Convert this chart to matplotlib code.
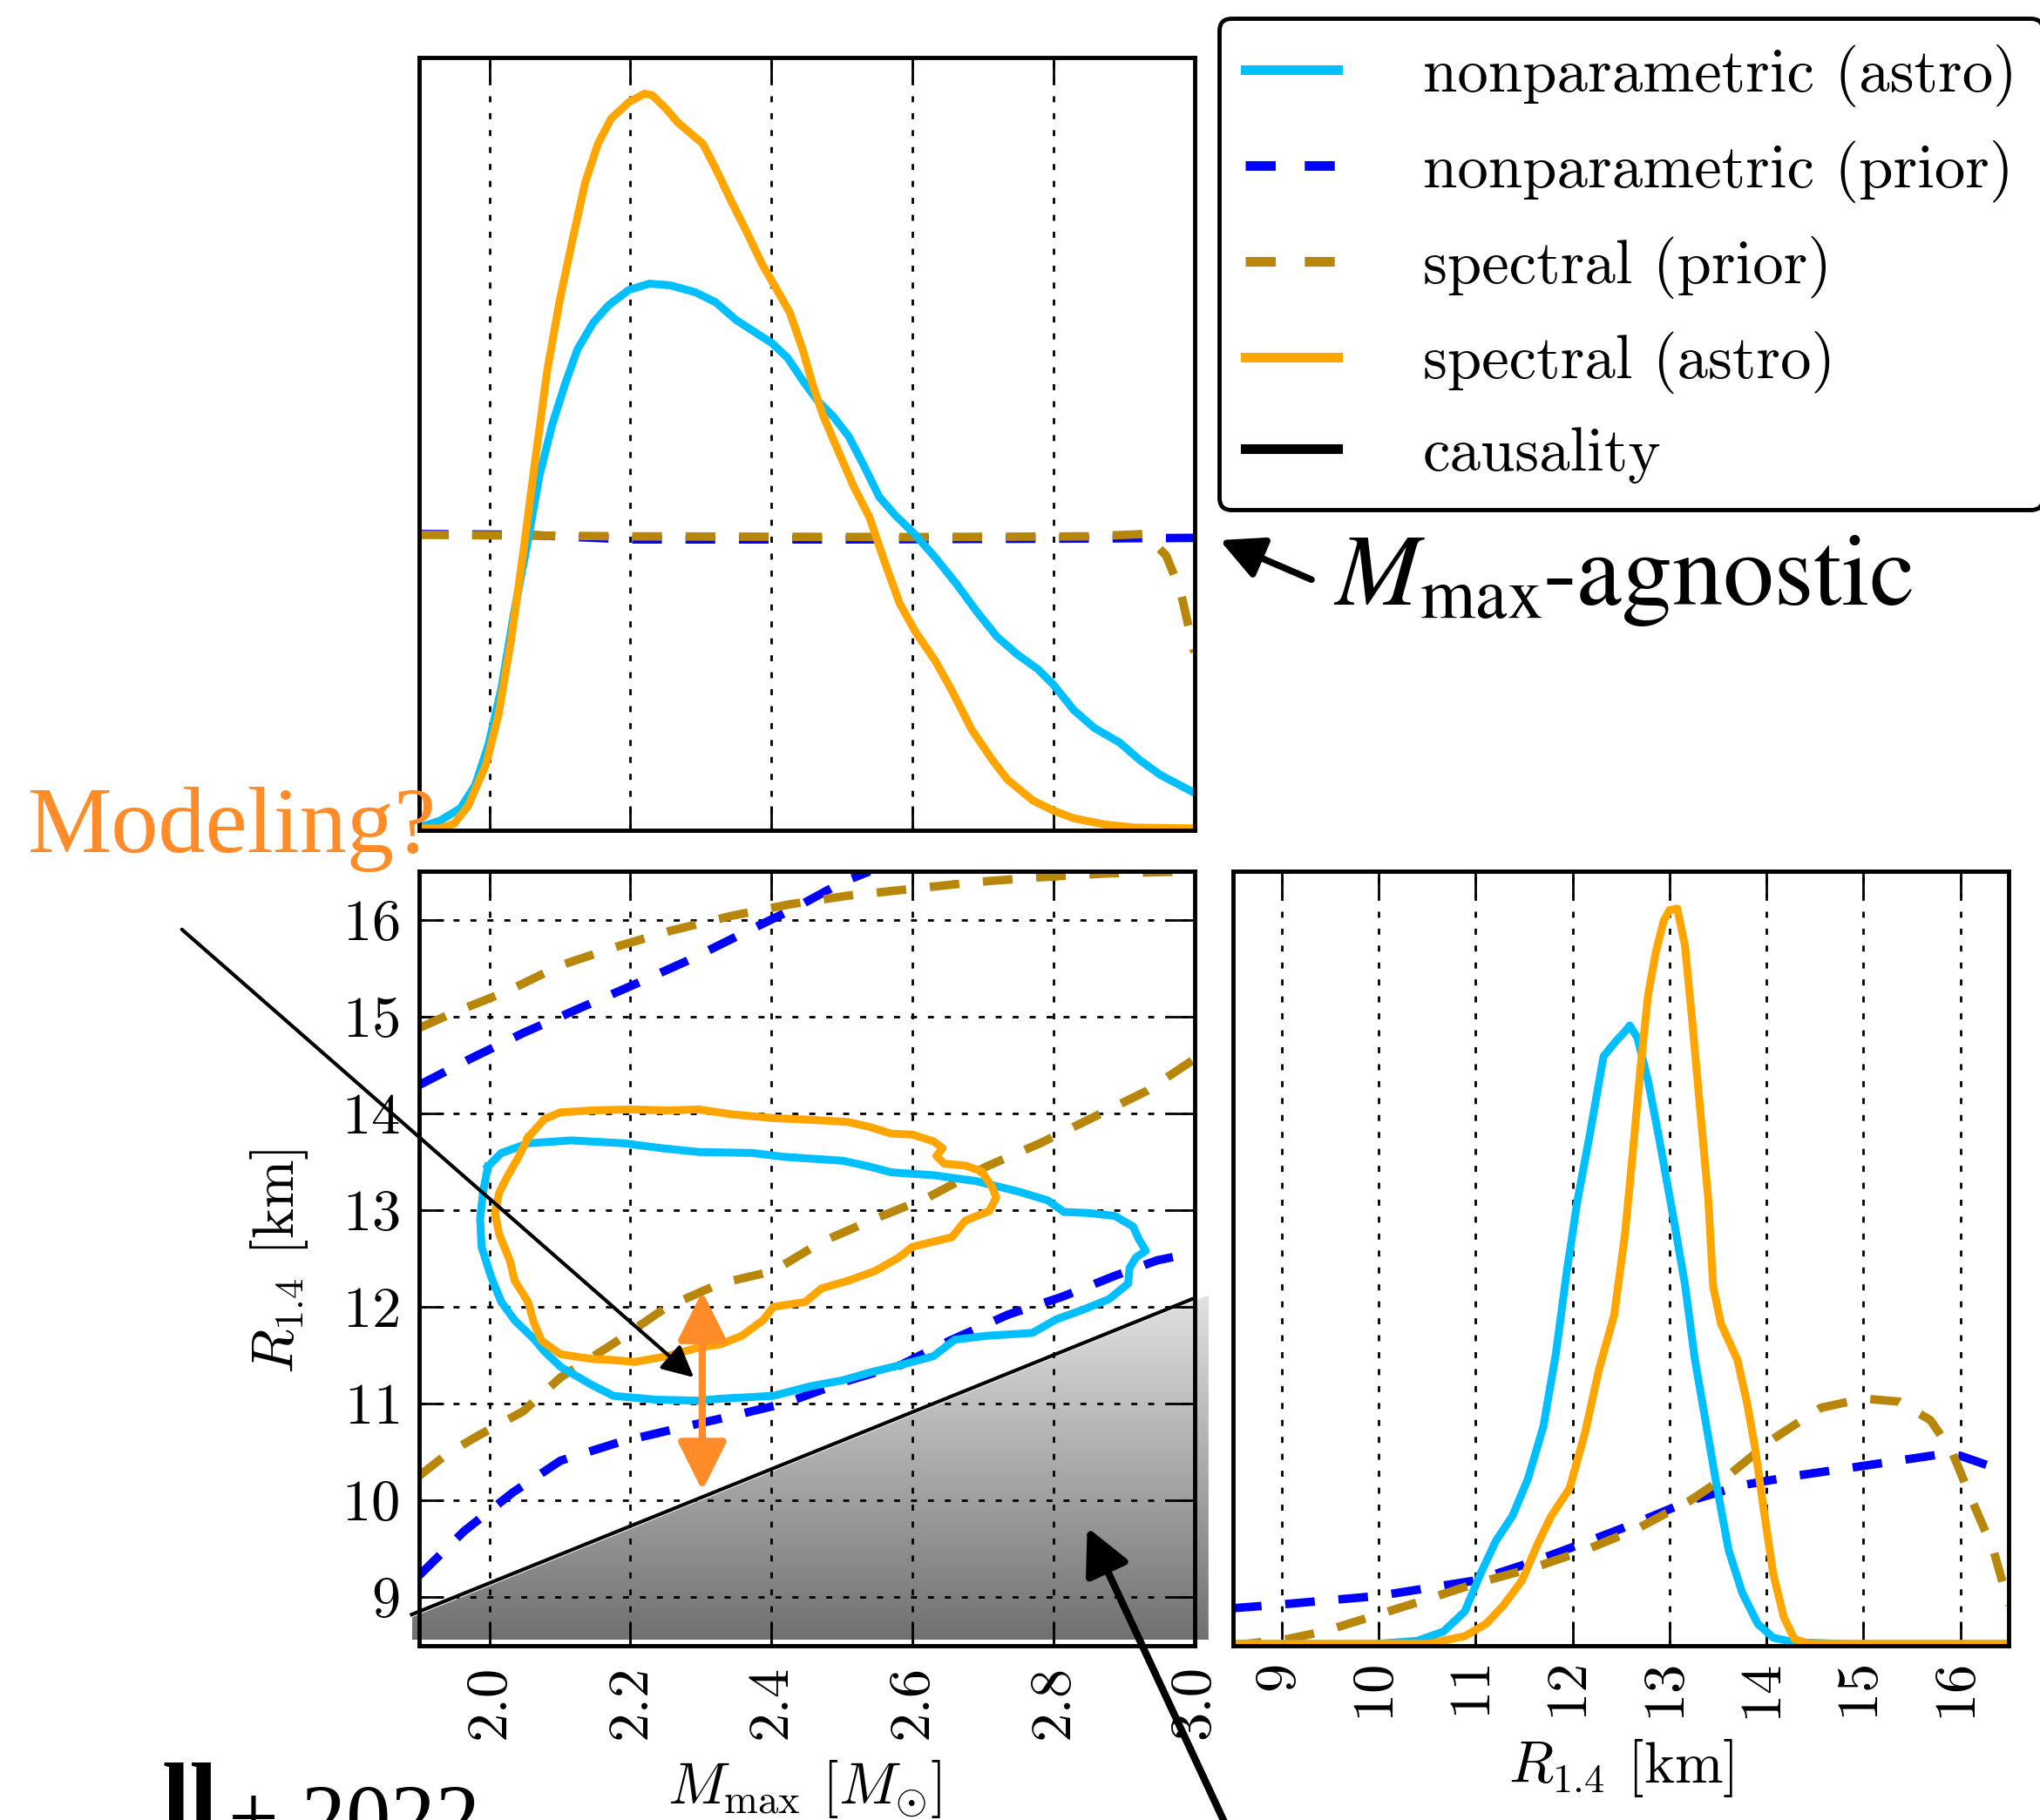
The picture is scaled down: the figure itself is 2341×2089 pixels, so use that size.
import numpy as np
import matplotlib
matplotlib.use('Agg')
import matplotlib.pyplot as plt
from matplotlib.lines import Line2D
from matplotlib.patches import Polygon
from matplotlib.colors import LinearSegmentedColormap

# ---------------------------------------------------------------------------
# data
# ---------------------------------------------------------------------------

# top panel: marginal of M_max (arbitrary normalisation)
np_astro_mmax = [1.90, 1.93, 1.959, 1.98, 1.999, 2.017, 2.035, 2.053, 2.071, 2.089, 2.107, 2.125,
                 2.147, 2.169, 2.198, 2.227, 2.256, 2.292, 2.321, 2.35, 2.372, 2.401, 2.423, 2.445,
                 2.466, 2.488, 2.51, 2.532, 2.553, 2.575, 2.604, 2.633, 2.662, 2.691, 2.72, 2.749,
                 2.778, 2.80, 2.829, 2.858, 2.894, 2.923, 2.952, 3.0]
np_astro_mmax_pdf = [0.003, 0.012, 0.028, 0.058, 0.111, 0.183, 0.281, 0.366, 0.458, 0.524, 0.576,
                     0.622, 0.656, 0.679, 0.699, 0.707, 0.705, 0.696, 0.683, 0.660, 0.647, 0.630,
                     0.611, 0.581, 0.555, 0.535, 0.509, 0.470, 0.431, 0.408, 0.382, 0.352, 0.319,
                     0.283, 0.250, 0.227, 0.208, 0.188, 0.155, 0.132, 0.113, 0.090, 0.071, 0.048]

spec_astro_mmax = [1.90, 1.93, 1.95, 1.97, 1.995, 2.013, 2.031, 2.049, 2.064, 2.082, 2.10, 2.118,
                   2.136, 2.154, 2.173, 2.198, 2.22, 2.231, 2.25, 2.267, 2.281, 2.303, 2.321, 2.343,
                   2.365, 2.387, 2.408, 2.426, 2.445, 2.459, 2.474, 2.495, 2.517, 2.539, 2.561,
                   2.582, 2.604, 2.633, 2.655, 2.684, 2.713, 2.735, 2.771, 2.80, 2.829, 2.873,
                   2.916, 3.0]
spec_astro_mmax_pdf = [0.002, 0.002, 0.008, 0.031, 0.084, 0.149, 0.247, 0.365, 0.471, 0.594, 0.686,
                       0.764, 0.838, 0.888, 0.921, 0.942, 0.953, 0.951, 0.934, 0.916, 0.905, 0.888,
                       0.856, 0.814, 0.774, 0.732, 0.699, 0.670, 0.620, 0.575, 0.535, 0.490, 0.444,
                       0.405, 0.346, 0.293, 0.257, 0.218, 0.182, 0.130, 0.091, 0.065, 0.038, 0.025,
                       0.015, 0.007, 0.003, 0.002]

np_prior_mmax = [1.90, 2.05, 2.15, 2.20, 2.50, 2.80, 3.00]
np_prior_mmax_pdf = [0.383, 0.382, 0.378, 0.376, 0.376, 0.377, 0.378]

spec_prior_mmax = [1.90, 2.20, 2.60, 2.85, 2.93, 2.96, 2.98, 3.00]
spec_prior_mmax_pdf = [0.382, 0.380, 0.379, 0.380, 0.383, 0.355, 0.31, 0.23]

# joint panel: 90% credible contours in (M_max, R_1.4)
np_astro_contour_m = [1.998, 2.017, 2.055, 2.116, 2.191, 2.244, 2.297, 2.373, 2.418, 2.501, 2.539,
                      2.570, 2.630, 2.690, 2.751, 2.792, 2.815, 2.849, 2.887, 2.913, 2.921, 2.931,
                      2.917, 2.908, 2.906, 2.879, 2.842, 2.804, 2.770, 2.705, 2.660, 2.630, 2.584,
                      2.539, 2.501, 2.456, 2.403, 2.327, 2.297, 2.237, 2.176, 2.146, 2.101, 2.078,
                      2.063, 2.036, 2.017, 2.002, 1.989, 1.987, 1.991, 1.998]
np_astro_contour_r = [13.45, 13.59, 13.69, 13.72, 13.69, 13.64, 13.60, 13.59, 13.55, 13.51, 13.45,
                      13.39, 13.36, 13.30, 13.19, 13.10, 12.98, 12.97, 12.94, 12.83, 12.70, 12.58,
                      12.51, 12.40, 12.24, 12.08, 11.97, 11.87, 11.73, 11.70, 11.66, 11.49, 11.40,
                      11.32, 11.24, 11.18, 11.08, 11.05, 11.03, 11.04, 11.08, 11.19, 11.38, 11.54,
                      11.67, 11.86, 12.05, 12.32, 12.62, 12.91, 13.18, 13.45]

spec_astro_contour_m = [2.055, 2.078, 2.101, 2.146, 2.199, 2.252, 2.297, 2.343, 2.403, 2.464, 2.509,
                        2.539, 2.570, 2.600, 2.630, 2.643, 2.634, 2.645, 2.675, 2.698, 2.713, 2.719,
                        2.709, 2.675, 2.656, 2.600, 2.581, 2.547, 2.509, 2.471, 2.448, 2.403, 2.388,
                        2.358, 2.327, 2.297, 2.252, 2.206, 2.176, 2.146, 2.101, 2.074, 2.063, 2.055,
                        2.036, 2.029, 2.014, 2.008, 2.014, 2.025, 2.040, 2.055]
spec_astro_contour_r = [13.75, 13.94, 14.01, 14.03, 14.04, 14.03, 14.04, 13.99, 13.95, 13.93, 13.91,
                        13.86, 13.79, 13.78, 13.71, 13.64, 13.56, 13.48, 13.46, 13.40, 13.24, 13.13,
                        12.99, 12.89, 12.72, 12.62, 12.51, 12.37, 12.27, 12.19, 12.05, 12.00, 11.86,
                        11.70, 11.61, 11.58, 11.49, 11.43, 11.45, 11.46, 11.51, 11.65, 11.84, 12.05,
                        12.27, 12.48, 12.75, 12.97, 13.18, 13.34, 13.53, 13.75]

# prior contours (only partly inside the window)
np_prior_upper_m = [1.900, 1.972, 2.048, 2.123, 2.199, 2.282, 2.357, 2.433, 2.501, 2.539]
np_prior_upper_r = [14.29, 14.56, 14.83, 15.07, 15.31, 15.58, 15.85, 16.12, 16.39, 16.50]
np_prior_lower_m = [1.900, 1.964, 2.033, 2.101, 2.184, 2.259, 2.343, 2.418, 2.501, 2.584, 2.653,
                    2.736, 2.811, 2.887, 2.947, 3.000]
np_prior_lower_r = [9.22, 9.68, 10.08, 10.41, 10.60, 10.73, 10.87, 11.00, 11.22, 11.40, 11.65,
                    11.92, 12.10, 12.32, 12.48, 12.56]

spec_prior_upper_m = [1.900, 1.949, 2.025, 2.101, 2.184, 2.259, 2.343, 2.426, 2.509, 2.600, 2.690,
                      2.781, 2.879, 2.993]
spec_prior_upper_r = [14.88, 15.04, 15.26, 15.53, 15.73, 15.89, 16.04, 16.16, 16.25, 16.32, 16.39,
                      16.44, 16.48, 16.50]
spec_prior_lower_m = [1.900, 1.942, 1.987, 2.048, 2.101, 2.176, 2.252, 2.327, 2.403, 2.471, 2.547,
                      2.622, 2.705, 2.781, 2.857, 2.932, 3.000]
spec_prior_lower_r = [10.25, 10.49, 10.68, 10.92, 11.27, 11.62, 12.00, 12.24, 12.37, 12.67, 12.91,
                      13.13, 13.45, 13.69, 13.96, 14.23, 14.56]

# causality bound
causality_m = [1.89, 3.0]
causality_r = [8.82, 12.09]

# right panel: marginal of R_1.4 (arbitrary normalisation)
np_astro_r = [8.5, 9.97, 10.40, 10.67, 10.89, 11.05, 11.21, 11.38, 11.54, 11.70, 11.83, 11.94,
              12.05, 12.18, 12.32, 12.45, 12.54, 12.59, 12.67, 12.78, 12.89, 13.05, 13.16, 13.26,
              13.37, 13.48, 13.61, 13.75, 13.91, 14.07, 14.29, 14.83, 16.5]
np_astro_r_pdf = [0.002, 0.002, 0.006, 0.018, 0.044, 0.092, 0.135, 0.167, 0.215, 0.283, 0.378,
                  0.482, 0.574, 0.661, 0.761, 0.781, 0.793, 0.801, 0.785, 0.729, 0.657, 0.546,
                  0.466, 0.371, 0.291, 0.211, 0.123, 0.068, 0.028, 0.010, 0.004, 0.002, 0.002]

spec_astro_r = [8.5, 10.51, 10.89, 11.11, 11.29, 11.48, 11.64, 11.78, 11.97, 12.13, 12.27, 12.43,
                12.54, 12.62, 12.70, 12.78, 12.86, 12.94, 13.00, 13.08, 13.16, 13.24, 13.32, 13.40,
                13.45, 13.53, 13.70, 13.80, 13.88, 13.97, 14.07, 14.18, 14.29, 14.45, 16.5]
spec_astro_r_pdf = [0.002, 0.002, 0.012, 0.028, 0.052, 0.084, 0.131, 0.167, 0.203, 0.275, 0.355,
                    0.427, 0.530, 0.634, 0.745, 0.841, 0.896, 0.936, 0.950, 0.952, 0.904, 0.799,
                    0.687, 0.576, 0.464, 0.416, 0.369, 0.313, 0.257, 0.177, 0.092, 0.036, 0.008,
                    0.002, 0.002]

np_prior_r = [8.49, 9.0, 10.0, 11.0, 11.59, 12.13, 12.67, 13.21, 13.75, 14.29, 15.0, 15.37, 15.80,
              16.0, 16.23, 16.5]
np_prior_r_pdf = [0.048, 0.053, 0.064, 0.084, 0.108, 0.133, 0.159, 0.187, 0.207, 0.219, 0.232,
                  0.239, 0.247, 0.245, 0.235, 0.223]

spec_prior_r = [8.49, 9.05, 9.43, 10.0, 10.51, 11.0, 11.59, 12.13, 12.67, 13.21, 13.64, 14.07,
                14.56, 15.0, 15.37, 15.69, 15.91, 16.12, 16.34, 16.5]
spec_prior_r_pdf = [0.0, 0.008, 0.018, 0.040, 0.060, 0.080, 0.100, 0.123, 0.151, 0.187, 0.223,
                    0.267, 0.307, 0.319, 0.315, 0.291, 0.251, 0.187, 0.123, 0.052]

mmax_ticks = [2.0, 2.2, 2.4, 2.6, 2.8, 3.0]
r_ticks = [9, 10, 11, 12, 13, 14, 15, 16]

legend_labels = ['nonparametric (astro)', 'nonparametric (prior)', 'spectral (prior)',
                 'spectral (astro)', 'causality']

CYAN = '#00bfff'
BLUE = '#0000ff'
GOLD = '#b8860b'
ORANGE = '#ffa500'
NOTE = '#ff8c28'

LW = 6.5       # solid curves
LWD = 7        # dashed curves
DASH = (3.5, 2.8)


def style_axes(ax):
    for sp in ax.spines.values():
        sp.set_linewidth(3.5)
    ax.tick_params(direction='in', length=20, width=2, top=True, right=True,
                   labelsize=48, pad=16)


def main():
    plt.rcParams['font.family'] = 'serif'
    plt.rcParams['font.serif'] = ['cmr10']
    plt.rcParams['mathtext.fontset'] = 'cm'
    plt.rcParams['axes.formatter.use_mathtext'] = True
    plt.rcParams['axes.unicode_minus'] = False

    W, H = 2341, 2089
    fig = plt.figure(figsize=(W / 100, H / 100), dpi=100)

    ax_top = fig.add_axes([0.2053, 0.5440, 0.3802, 0.4245])
    ax_joint = fig.add_axes([0.2053, 0.0959, 0.3802, 0.4253])
    ax_right = fig.add_axes([0.6044, 0.0959, 0.3804, 0.4253])

    grid_kw = dict(color='k', linestyle=(0, (2.5, 4.5)), linewidth=2)

    # --- top: M_max marginal
    ax_top.plot(np_prior_mmax, np_prior_mmax_pdf, color=BLUE, lw=LWD, dashes=DASH)
    ax_top.plot(spec_prior_mmax, spec_prior_mmax_pdf, color=GOLD, lw=LWD, dashes=DASH)
    ax_top.plot(np_astro_mmax, np_astro_mmax_pdf, color=CYAN, lw=LW)
    ax_top.plot(spec_astro_mmax, spec_astro_mmax_pdf, color=ORANGE, lw=LW)
    ax_top.set_xlim(1.9, 3.0)
    ax_top.set_ylim(0, 1.0)
    ax_top.set_xticks(mmax_ticks)
    ax_top.xaxis.grid(True, **grid_kw)
    style_axes(ax_top)
    ax_top.tick_params(labelbottom=False, left=False, right=False, labelleft=False)

    # --- joint panel
    # shaded region excluded by causality (a vertical grey gradient)
    shade = LinearSegmentedColormap.from_list('shade', ['#717171', '#e2e2e2'])
    grad = np.linspace(0, 1, 256).reshape(-1, 1)
    im = ax_joint.imshow(grad, cmap=shade, origin='lower', aspect='auto',
                         extent=[1.89, 3.02, 8.56, 12.12], zorder=0)
    clip = Polygon([[1.89, 8.79], [3.02, 12.12], [3.02, 8.56], [1.89, 8.56]],
                   closed=True, transform=ax_joint.transData)
    im.set_clip_box(fig.bbox)
    im.set_clip_path(clip)

    ax_joint.plot(np_prior_upper_m, np_prior_upper_r, color=BLUE, lw=LWD, dashes=DASH)
    ax_joint.plot(np_prior_lower_m, np_prior_lower_r, color=BLUE, lw=LWD, dashes=DASH)
    ax_joint.plot(spec_prior_upper_m, spec_prior_upper_r, color=GOLD, lw=LWD, dashes=DASH)
    ax_joint.plot(spec_prior_lower_m, spec_prior_lower_r, color=GOLD, lw=LWD, dashes=DASH)
    ax_joint.plot(np_astro_contour_m, np_astro_contour_r, color=CYAN, lw=LW)
    ax_joint.plot(spec_astro_contour_m, spec_astro_contour_r, color=ORANGE, lw=LW)
    ax_joint.plot(causality_m, causality_r, color='k', lw=3, clip_on=False)

    ax_joint.set_xlim(1.9, 3.0)
    ax_joint.set_ylim(8.5, 16.5)
    ax_joint.set_xticks(mmax_ticks)
    ax_joint.set_xticklabels(['%.1f' % t for t in mmax_ticks])
    ax_joint.set_yticks(r_ticks)
    ax_joint.grid(True, **grid_kw)
    style_axes(ax_joint)
    ax_joint.tick_params(axis='x', labelrotation=90)
    ax_joint.set_xlabel(r'$M_{\rm max}$ $[M_{\odot}]$', fontsize=48, va='center')
    ax_joint.xaxis.set_label_coords(0.497, -0.185)
    ax_joint.set_ylabel(r'$R_{1.4}$ [km]', fontsize=48, va='center')
    ax_joint.yaxis.set_label_coords(-0.18, 0.496)

    # --- right: R_1.4 marginal
    ax_right.plot(np_prior_r, np_prior_r_pdf, color=BLUE, lw=LWD, dashes=DASH)
    ax_right.plot(spec_prior_r, spec_prior_r_pdf, color=GOLD, lw=LWD, dashes=DASH)
    ax_right.plot(np_astro_r, np_astro_r_pdf, color=CYAN, lw=LW)
    ax_right.plot(spec_astro_r, spec_astro_r_pdf, color=ORANGE, lw=LW)
    ax_right.set_xlim(8.5, 16.5)
    ax_right.set_ylim(0, 1.0)
    ax_right.set_xticks(r_ticks)
    ax_right.xaxis.grid(True, **grid_kw)
    style_axes(ax_right)
    ax_right.tick_params(left=False, right=False, labelleft=False)
    ax_right.tick_params(axis='x', labelrotation=90)
    ax_right.set_xlabel(r'$R_{1.4}$ [km]', fontsize=48, va='center')
    ax_right.xaxis.set_label_coords(0.5, -0.159)

    # --- legend
    handles = [Line2D([], [], color=CYAN, lw=8),
               Line2D([], [], color=BLUE, lw=8, dashes=(3.1, 3.0)),
               Line2D([], [], color=GOLD, lw=8, dashes=(3.1, 3.0)),
               Line2D([], [], color=ORANGE, lw=8),
               Line2D([], [], color='k', lw=8)]
    leg = fig.legend(handles, legend_labels, loc='upper left',
                     bbox_to_anchor=(1399 / W, 1 - 21 / H), bbox_transform=fig.transFigure,
                     fontsize=51, fancybox=True, framealpha=1, edgecolor='k',
                     handlelength=1.5, handletextpad=1.38, labelspacing=0.535,
                     borderpad=0.42, borderaxespad=0)
    leg.get_frame().set_linewidth(3.5)

    # --- annotations
    ax_top.annotate('', xy=(3.036, 0.375), xytext=(3.166, 0.324), annotation_clip=False,
                    arrowprops=dict(arrowstyle='-|>', color='k', lw=5.5, mutation_scale=75,
                                    shrinkA=0, shrinkB=0))
    t_m = fig.text(1530 / W, 1 - 694 / H, r'$M_{\rm max}$', fontsize=84,
                   math_fontfamily='stix', va='baseline', ha='left')
    renderer = fig.canvas.get_renderer()
    bb = t_m.get_window_extent(renderer)
    fig.text(bb.x1 / W, 1 - 694 / H, '-agnostic', fontsize=84,
             family=['STIXGeneral'], va='baseline', ha='left')

    fig.text(32 / W, 1 - 978 / H, 'Modeling?', color=NOTE, fontsize=78,
             family=['Liberation Serif'], va='baseline', ha='left')
    ax_joint.annotate('', xy=(2.29, 11.27), xytext=(1.564, 15.90), annotation_clip=False,
                      arrowprops=dict(arrowstyle='-|>', color='k', lw=3, mutation_scale=55,
                                      shrinkA=0, shrinkB=0))
    ax_joint.annotate('', xy=(2.302, 10.10), xytext=(2.302, 12.16), annotation_clip=False,
                      arrowprops=dict(arrowstyle='<|-|>', color=NOTE, lw=6, mutation_scale=85,
                                      shrinkA=0, shrinkB=0))
    ax_joint.annotate('', xy=(2.848, 9.72), xytext=(3.06, 6.40), annotation_clip=False,
                      arrowprops=dict(arrowstyle='-|>', color='k', lw=6, mutation_scale=80,
                                      shrinkA=0, shrinkB=0))

    # citation, cut by the lower edge as in the original slide
    fig.text(186 / W, 1 - 2104 / H, 'll', fontsize=84, fontweight='bold',
             family=['Liberation Serif'], va='baseline', ha='left')
    fig.text(262 / W, 1 - 2120 / H, '+ 2022', fontsize=74,
             family=['Liberation Serif'], va='baseline', ha='left')

    plt.savefig('out.png', dpi=100)


if __name__ == "__main__":
    main()
